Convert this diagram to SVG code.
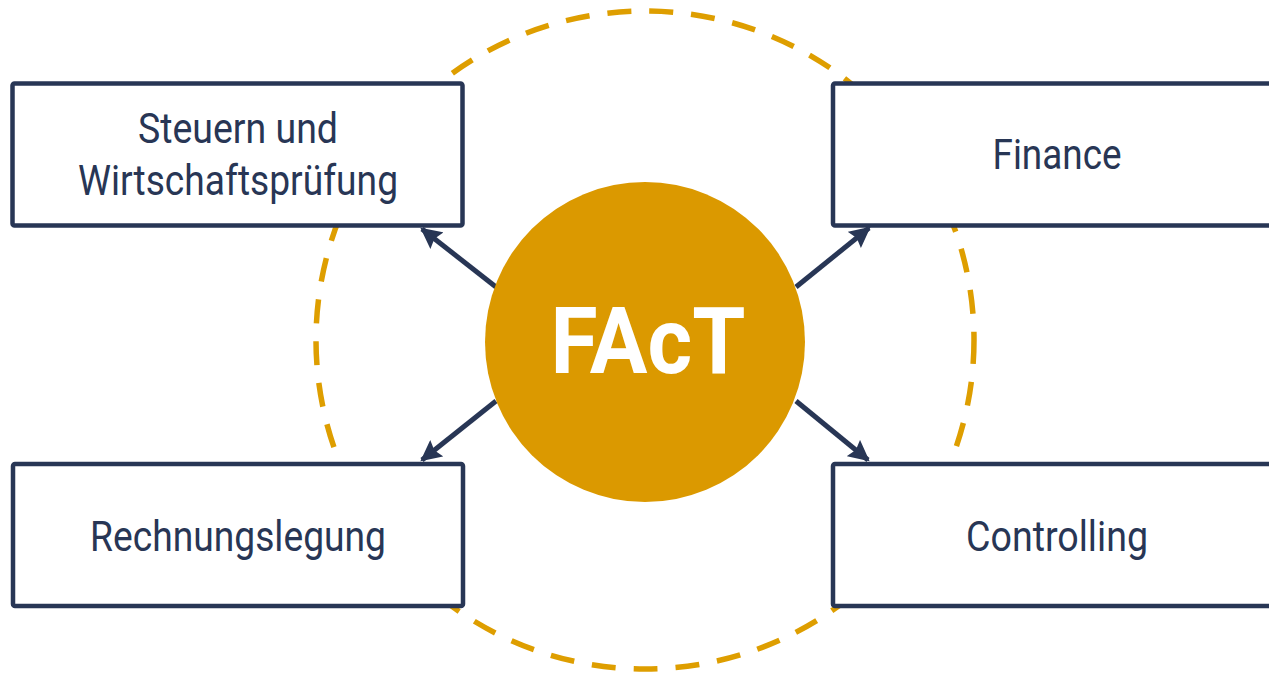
<svg xmlns="http://www.w3.org/2000/svg" width="1269" height="678" viewBox="0 0 1269 678">
<style>
.box{fill:#fff;stroke:#283655;stroke-width:4.5}
.lbl{font-family:Roboto,"Noto Sans",sans-serif;font-size:43px;fill:#283655;text-anchor:middle}
.conn{stroke:#283655;stroke-width:5;fill:none}
</style>
<defs>
<marker id="ah" viewBox="0 0 10 10" refX="9" refY="5" markerWidth="4.4" markerHeight="4.2" orient="auto" markerUnits="strokeWidth">
<path d="M0,0 L10,5 L0,10 L1.5,5 Z" fill="#283655"/>
</marker>
</defs>
<rect width="1269" height="678" fill="#fff"/>
<circle id="ring" cx="645" cy="340" r="329" fill="none" stroke="#DE9E00" stroke-width="5.5" stroke-dasharray="24 18"/>
<g id="connectors">
<line class="conn" x1="496" y1="287" x2="422" y2="229" marker-end="url(#ah)"/>
<line class="conn" x1="796" y1="287" x2="869" y2="228" marker-end="url(#ah)"/>
<line class="conn" x1="496" y1="401" x2="422" y2="460" marker-end="url(#ah)"/>
<line class="conn" x1="796" y1="401" x2="868" y2="460" marker-end="url(#ah)"/>
</g>
<g id="fact">
<circle cx="645" cy="342" r="160" fill="#DB9900"/>
<text x="648" y="373" font-family="Roboto,'Noto Sans',sans-serif" font-weight="bold" font-size="93" fill="#fff" text-anchor="middle" textLength="195" lengthAdjust="spacingAndGlyphs">FAcT</text>
</g>
<g id="steuern">
<rect class="box" x="12.5" y="83.5" width="450" height="142" rx="2"/>
<text class="lbl" x="238" y="143" textLength="200" lengthAdjust="spacingAndGlyphs">Steuern und</text>
<text class="lbl" x="238" y="195" textLength="320" lengthAdjust="spacingAndGlyphs">Wirtschaftsprüfung</text>
</g>
<g id="finance">
<rect class="box" x="833" y="83.5" width="450" height="142" rx="2"/>
<text class="lbl" x="1057" y="169" textLength="129" lengthAdjust="spacingAndGlyphs">Finance</text>
</g>
<g id="rechnungslegung">
<rect class="box" x="13" y="464" width="450" height="142" rx="2"/>
<text class="lbl" x="238" y="551" textLength="296" lengthAdjust="spacingAndGlyphs">Rechnungslegung</text>
</g>
<g id="controlling">
<rect class="box" x="833" y="464" width="450" height="142" rx="2"/>
<text class="lbl" x="1057" y="551" textLength="182" lengthAdjust="spacingAndGlyphs">Controlling</text>
</g>
</svg>
